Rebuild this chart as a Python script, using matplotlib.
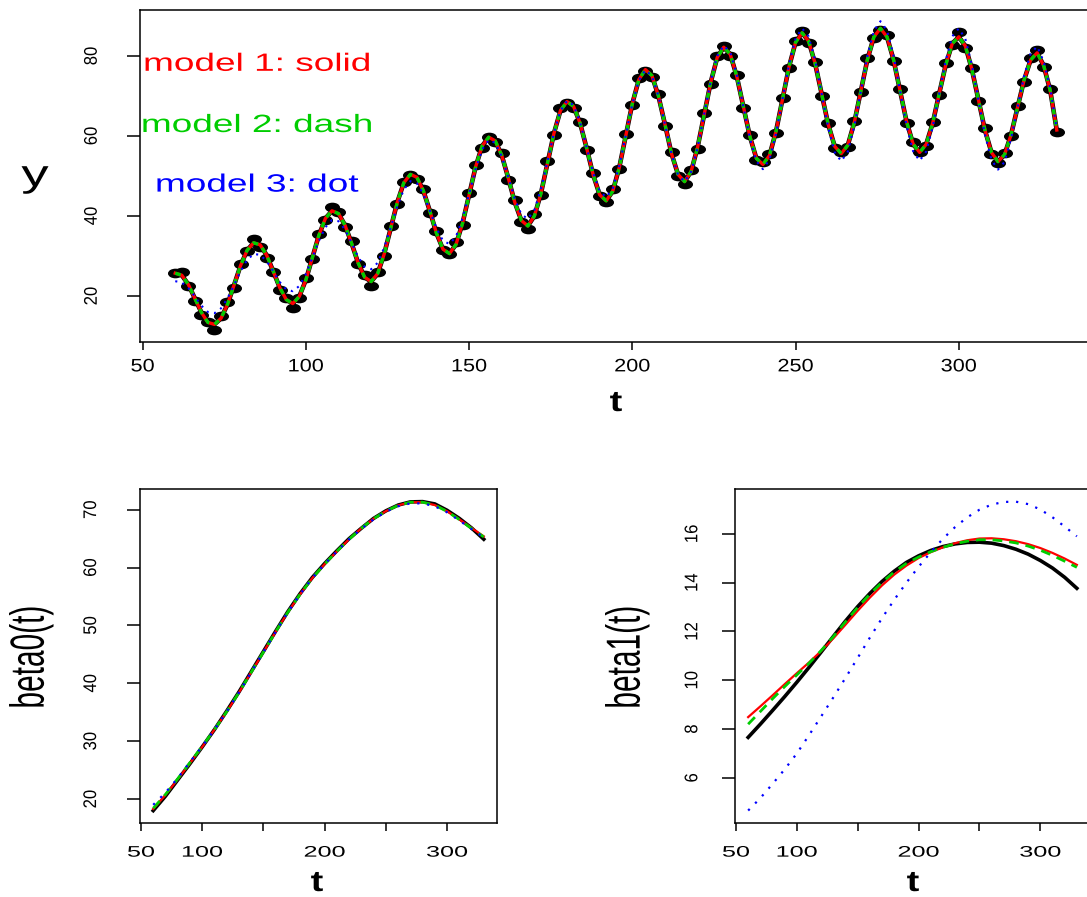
import numpy as np
import matplotlib
matplotlib.use("Agg")
import matplotlib.pyplot as plt
from matplotlib.path import Path
from matplotlib.transforms import Affine2D
from matplotlib.patheffects import AbstractPathEffect

plt.rcParams['font.family'] = ['Liberation Sans', 'DejaVu Sans']

# ---- data: observations and fitted curves (top panel) ----
t = np.arange(60, 331, 2)

y_obs = [25.8, 26.0, 22.6, 18.8, 15.2, 13.6, 11.4, 15.0, 18.6, 22.0,
         27.9, 31.2, 34.3, 32.3, 29.6, 25.9, 21.6, 19.6, 17.1, 19.5,
         24.5, 29.2, 35.6, 39.0, 42.3, 40.9, 37.3, 33.8, 28.0, 25.2,
         22.5, 26.1, 30.0, 37.4, 43.0, 48.6, 50.3, 49.2, 46.8, 40.7,
         36.2, 31.4, 30.4, 33.4, 37.8, 45.8, 52.8, 57.1, 59.8, 58.4,
         55.7, 49.1, 43.9, 38.5, 36.8, 40.5, 45.2, 53.7, 60.3, 66.9,
         68.3, 67.0, 63.6, 56.6, 50.8, 44.9, 43.6, 46.7, 51.7, 60.5,
         67.7, 74.5, 76.3, 74.7, 70.4, 62.5, 56.0, 50.0, 48.0, 51.6,
         56.8, 65.7, 73.0, 80.0, 82.5, 80.0, 75.3, 67.0, 60.3, 54.0,
         53.4, 55.6, 60.7, 69.6, 76.9, 83.8, 86.3, 83.3, 78.5, 70.1,
         63.3, 57.0, 56.1, 57.3, 63.8, 70.9, 79.5, 84.4, 86.5, 85.2,
         78.7, 71.7, 63.2, 58.4, 56.0, 57.5, 63.6, 70.2, 78.2, 82.7,
         86.0, 82.1, 77.1, 68.7, 61.9, 55.5, 53.2, 55.7, 59.9, 67.6,
         73.6, 79.4, 81.6, 77.2, 71.8, 61.0]

y_fit = [25.7, 25.2, 22.9, 19.4, 15.9, 13.4, 12.9, 14.4, 17.9, 22.7,
         27.6, 31.4, 33.3, 32.8, 30.2, 26.2, 22.1, 19.1, 18.1, 19.9,
         24.0, 29.6, 35.2, 39.4, 41.3, 40.6, 37.7, 33.2, 28.3, 24.7,
         23.6, 25.6, 30.5, 37.0, 43.4, 48.3, 50.4, 49.7, 46.3, 41.2,
         35.7, 31.7, 30.6, 32.9, 38.2, 45.3, 52.3, 57.5, 59.7, 58.8,
         55.2, 49.5, 43.4, 38.9, 37.5, 40.0, 45.6, 53.2, 60.7, 66.4,
         68.6, 67.4, 63.2, 57.0, 50.3, 45.3, 43.8, 46.2, 52.1, 60.1,
         68.1, 74.1, 76.6, 75.1, 70.0, 62.9, 55.6, 50.4, 48.6, 51.1,
         57.2, 65.3, 73.4, 79.6, 82.2, 80.4, 74.9, 67.4, 59.9, 54.4,
         52.9, 55.1, 61.1, 69.2, 77.3, 83.4, 85.8, 83.7, 78.1, 70.5,
         62.9, 57.4, 55.6, 57.7, 63.4, 71.3, 79.1, 84.8, 86.9, 84.8,
         79.1, 71.3, 63.6, 58.0, 55.9, 57.9, 63.2, 70.6, 77.8, 83.1,
         84.8, 82.5, 76.7, 69.1, 61.5, 55.9, 53.6, 55.3, 60.3, 67.2,
         74.0, 79.0, 80.8, 77.6, 71.4, 61.5]

y_fit3 = [23.7, 23.4, 22.0, 19.9, 17.6, 16.0, 15.7, 16.9, 19.4, 22.7,
          26.2, 29.0, 30.5, 30.3, 28.7, 26.2, 23.5, 21.6, 21.2, 22.5,
          25.5, 29.6, 33.8, 37.2, 39.0, 38.7, 36.6, 33.3, 29.8, 27.3,
          26.7, 28.3, 32.1, 37.2, 42.4, 46.6, 48.7, 48.2, 45.5, 41.3,
          37.0, 33.8, 33.0, 34.9, 39.4, 45.5, 51.7, 56.6, 59.0, 58.3,
          54.9, 49.7, 44.3, 40.4, 39.3, 41.5, 46.7, 53.6, 60.8, 66.3,
          68.8, 67.7, 63.4, 57.2, 50.8, 46.2, 44.7, 46.9, 52.5, 60.2,
          68.0, 73.9, 76.5, 75.0, 70.0, 62.9, 55.6, 50.3, 48.6, 51.0,
          57.1, 65.4, 73.7, 80.0, 82.6, 80.9, 75.3, 67.4, 59.5, 53.7,
          51.7, 54.1, 60.5, 69.2, 77.9, 84.4, 86.9, 84.9, 78.9, 70.5,
          62.1, 55.9, 53.7, 56.1, 62.5, 71.3, 80.0, 86.3, 88.7, 86.4,
          80.1, 71.3, 62.6, 56.2, 53.8, 56.1, 62.2, 70.6, 78.9, 84.9,
          86.9, 84.3, 77.8, 69.1, 60.4, 54.1, 51.6, 53.5, 59.3, 67.2,
          75.0, 80.6, 82.4, 78.6, 72.0, 61.8]

# ---- data: coefficient curves (bottom panels) ----
t_coef = np.arange(60, 331, 10)

beta0_true = [18.0, 20.5, 23.3, 26.1, 29.0, 32.0, 35.2, 38.5, 42.0, 45.5,
              49.0, 52.4, 55.5, 58.3, 60.7, 62.9, 65.0, 66.8, 68.5, 69.8,
              70.8, 71.35, 71.4, 71.0, 69.9, 68.5, 66.85, 64.9]
beta0_m1 = [18.3, 20.7, 23.4, 26.2, 29.0, 32.0, 35.1, 38.4, 41.9, 45.4,
            48.9, 52.3, 55.4, 58.2, 60.6, 62.8, 64.9, 66.8, 68.45, 69.75,
            70.75, 71.3, 71.3, 70.8, 69.75, 68.35, 66.85, 65.4]
beta0_m2 = [18.4, 20.8, 23.5, 26.3, 29.1, 32.0, 35.1, 38.4, 41.9, 45.4,
            48.9, 52.3, 55.4, 58.2, 60.6, 62.8, 64.9, 66.8, 68.45, 69.75,
            70.75, 71.3, 71.3, 70.8, 69.7, 68.3, 66.75, 65.3]
beta0_m3 = [19.0, 21.1, 23.6, 26.4, 29.1, 32.0, 35.1, 38.4, 41.9, 45.4,
            48.9, 52.3, 55.4, 58.2, 60.6, 62.8, 64.9, 66.7, 68.35, 69.65,
            70.6, 71.1, 71.1, 70.6, 69.55, 68.15, 66.65, 65.2]

beta1_true = [7.66, 8.2, 8.76, 9.33, 9.92, 10.53, 11.16, 11.8, 12.43, 13.02,
              13.56, 14.05, 14.47, 14.83, 15.1, 15.32, 15.48, 15.59, 15.65, 15.66,
              15.62, 15.52, 15.37, 15.17, 14.91, 14.6, 14.22, 13.77]
beta1_m1 = [8.49, 8.93, 9.38, 9.84, 10.29, 10.73, 11.2, 11.72, 12.28, 12.85,
            13.39, 13.89, 14.33, 14.7, 15.01, 15.25, 15.45, 15.62, 15.74, 15.81,
            15.82, 15.78, 15.7, 15.58, 15.42, 15.22, 14.99, 14.73]
beta1_m2 = [8.2, 8.72, 9.24, 9.74, 10.22, 10.7, 11.22, 11.79, 12.4, 12.99,
            13.53, 14.02, 14.44, 14.79, 15.05, 15.27, 15.45, 15.6, 15.7, 15.76,
            15.76, 15.71, 15.63, 15.5, 15.33, 15.12, 14.88, 14.63]
beta1_m3 = [4.66, 5.17, 5.75, 6.35, 7.0, 7.75, 8.52, 9.3, 10.1, 10.92,
            11.75, 12.55, 13.3, 14.0, 14.65, 15.25, 15.8, 16.28, 16.68, 16.99,
            17.2, 17.31, 17.32, 17.22, 17.0, 16.68, 16.3, 15.9]

model_labels = ['model 1: solid', 'model 2: dash', 'model 3: dot']
model_colors = ['#FF0000', '#00CD00', '#0000FF']

W, H = 1087, 897


class Widen(AbstractPathEffect):
    # stretch text sideways about its own centre (the reference is horizontally stretched)
    def __init__(self, sx):
        super().__init__()
        self.sx = sx

    def draw_path(self, renderer, gc, tpath, affine, rgbFace=None):
        ext = tpath.get_extents(affine)
        cx = 0.5 * (ext.x0 + ext.x1)
        aff = affine + Affine2D().translate(-cx, 0).scale(self.sx, 1).translate(cx, 0)
        renderer.draw_path(gc, tpath, aff, rgbFace)


def box(l, t_, r, b):
    return [l / W, 1 - b / H, (r - l) / W, (b - t_) / H]


def style(ax, xpad, ypad, xsize, xwide):
    for s in ax.spines.values():
        s.set_linewidth(1.1)
    ax.tick_params(axis='x', length=5.8, width=1.1, pad=xpad, labelsize=xsize)
    ax.tick_params(axis='y', length=9.4, width=1.1, pad=ypad, labelsize=12, labelrotation=90)
    for lab in ax.get_yticklabels():
        lab.set_va('center')
        lab.set_path_effects([Widen(1.1)])
    for lab in ax.get_xticklabels():
        lab.set_path_effects([Widen(xwide)])


def label(x, y, s, size, wide, rot=0, bold=False):
    fig.text(x / W, 1 - y / H, s, ha='center', va='center', fontsize=size, rotation=rot,
             fontweight='bold' if bold else 'normal', path_effects=[Widen(wide)])


fig = plt.figure(figsize=(W / 100, H / 100), dpi=100)

# ---- top panel ----
ax1 = fig.add_axes(box(140, 10, 1092, 342))
ell = Path.unit_circle().transformed(Affine2D().scale(1.65, 1))
ax1.plot(t, y_obs, ls='none', marker=ell, ms=9.8, color='black', zorder=2)
ax1.plot(t, y_fit, color='black', lw=3.3, zorder=3)
ax1.plot(t, y_fit, color=model_colors[0], lw=2.4, zorder=4)
ax1.plot(t, y_fit, color=model_colors[1], lw=2.4, dashes=(1.7, 1.7), zorder=5)
ax1.plot(t, y_fit3, color=model_colors[2], lw=1.5, dashes=(1, 2.6), zorder=6)
ax1.set_xlim(49.2, 340.8)
ax1.set_ylim(8.5, 91.5)
ax1.set_xticks([50, 100, 150, 200, 250, 300])
ax1.set_yticks([20, 40, 60, 80])
style(ax1, 6, 20, 13, 1.2)
for s, c, yy in zip(model_labels, model_colors, [76.3, 61.0, 46.1]):
    ax1.text(85, yy, s, color=c, ha='center', va='baseline', fontsize=18,
             path_effects=[Widen(1.48)])

label(616, 403, 't', 21, 1.3, bold=True)
label(35, 176, 'y', 27, 1.45)

# ---- bottom left: beta0 ----
ax2 = fig.add_axes(box(140, 489, 497, 823))
ax2.plot(t_coef, beta0_true, color='black', lw=2.6)
ax2.plot(t_coef, beta0_m1, color=model_colors[0], lw=1.6)
ax2.plot(t_coef, beta0_m2, color=model_colors[1], lw=2.0, dashes=(3.5, 2.5))
ax2.plot(t_coef, beta0_m3, color=model_colors[2], lw=1.6, dashes=(1, 3.5))
ax2.set_xlim(49.2, 340.8)
ax2.set_ylim(15.86, 73.58)
ax2.set_xticks([50, 100, 150, 200, 250, 300], ['50', '100', '', '200', '', '300'])
ax2.set_yticks([20, 30, 40, 50, 60, 70])
style(ax2, 10.5, 20.5, 11, 1.65)
label(317, 883, 't', 21, 1.3, bold=True)
label(31, 657, 'beta0(t)', 21.5, 1.6, rot=90)

# ---- bottom right: beta1 ----
ax3 = fig.add_axes(box(735, 489, 1090, 823))
ax3.plot(t_coef, beta1_true, color='black', lw=2.6)
ax3.plot(t_coef, beta1_m1, color=model_colors[0], lw=1.6)
ax3.plot(t_coef, beta1_m2, color=model_colors[1], lw=2.0, dashes=(3.5, 2.5))
ax3.plot(t_coef, beta1_m3, color=model_colors[2], lw=1.6, dashes=(1, 3.5))
ax3.set_xlim(49.2, 340.8)
ax3.set_ylim(4.15, 17.84)
ax3.set_xticks([50, 100, 150, 200, 250, 300], ['50', '100', '', '200', '', '300'])
ax3.set_yticks([6, 8, 10, 12, 14, 16])
style(ax3, 10.5, 16, 11, 1.65)
label(913, 883, 't', 21, 1.3, bold=True)
label(627, 657, 'beta1(t)', 21.5, 1.6, rot=90)

fig.savefig('out.png', dpi=100)
